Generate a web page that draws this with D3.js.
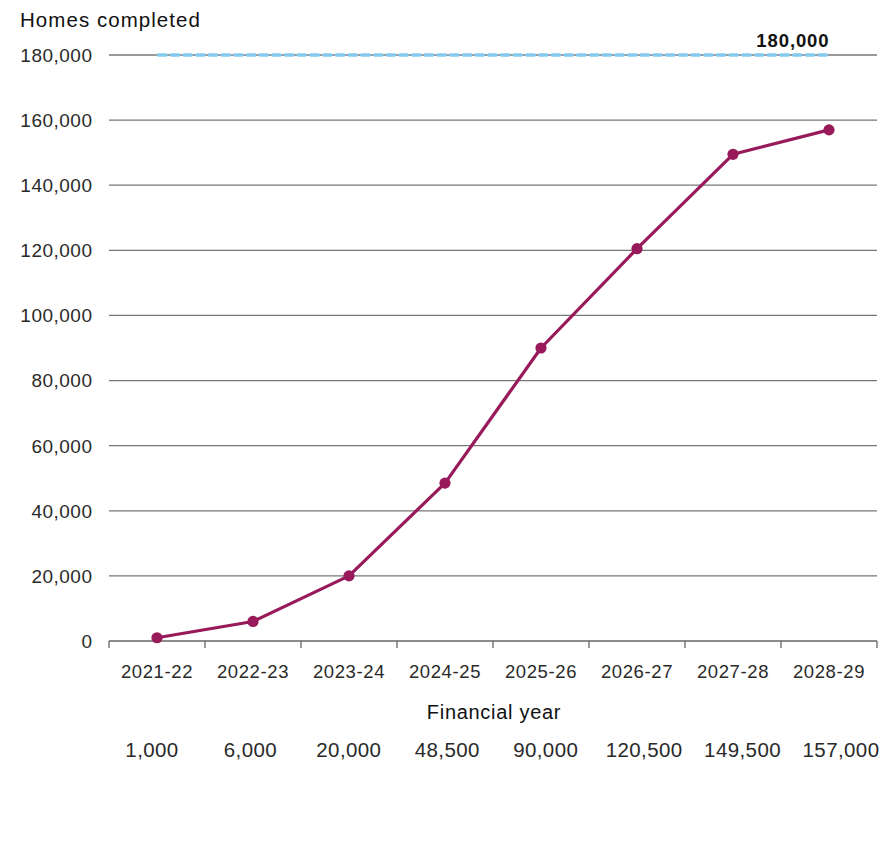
<!DOCTYPE html>
<html>
<head>
<meta charset="utf-8">
<script src="https://cdn.jsdelivr.net/npm/d3@7"></script>
<style>
  html, body { margin: 0; padding: 0; background: #fff; }
  svg text { font-family: "Liberation Sans", Arial, sans-serif; }
</style>
</head>
<body>
<svg id="chart" width="883" height="845"></svg>
<script>
// Homes completed by financial year, with the 180,000 target
const years = ["2021-22", "2022-23", "2023-24", "2024-25", "2025-26", "2026-27", "2027-28", "2028-29"];
const homes = [1000, 6000, 20000, 48500, 90000, 120500, 149500, 157000];
const target = 180000;
const yTicks = [0, 20000, 40000, 60000, 80000, 100000, 120000, 140000, 160000, 180000];

const svg = d3.select("#chart");
const margin = { left: 109, right: 6, top: 55, bottom: 204 };
const W = 883, H = 845;

const x = d3.scaleBand().domain(years).range([margin.left, W - margin.right]);
const y = d3.scaleLinear().domain([0, 180000]).range([H - margin.bottom, margin.top]);
const fmt = d3.format(",");

// Horizontal gridlines
svg.append("g")
  .selectAll("line")
  .data(yTicks.filter(d => d > 0))
  .join("line")
  .attr("x1", margin.left).attr("x2", W - margin.right)
  .attr("y1", d => y(d)).attr("y2", d => y(d))
  .attr("stroke", "#777").attr("stroke-width", 1.3);

// Y axis labels
svg.append("g")
  .selectAll("text")
  .data(yTicks)
  .join("text")
  .attr("x", 92.5).attr("y", d => y(d))
  .attr("dy", "0.36em")
  .attr("text-anchor", "end")
  .attr("font-size", 19)
  .attr("letter-spacing", 0.5)
  .attr("fill", "#2a2a2a")
  .text(d => fmt(d));

// X axis with tick marks on band edges
const xAxis = svg.append("g").attr("transform", `translate(0,${y(0)})`);
xAxis.append("line")
  .attr("x1", margin.left).attr("x2", W - margin.right)
  .attr("stroke", "#666").attr("stroke-width", 1.5);
const edges = years.map(d => x(d)).concat([x(years[years.length - 1]) + x.bandwidth()]);
xAxis.selectAll("line.tick")
  .data(edges)
  .join("line")
  .attr("class", "tick")
  .attr("x1", d => d).attr("x2", d => d)
  .attr("y1", 0).attr("y2", 7)
  .attr("stroke", "#666").attr("stroke-width", 1.3);
xAxis.selectAll("text")
  .data(years)
  .join("text")
  .attr("x", d => x(d) + x.bandwidth() / 2)
  .attr("y", 37)
  .attr("text-anchor", "middle")
  .attr("font-size", 18.5)
  .attr("letter-spacing", 0.6)
  .attr("fill", "#2a2a2a")
  .text(d => d);

// Target line
const cx = d => x(d) + x.bandwidth() / 2;
svg.append("line")
  .attr("x1", cx(years[0]) + 1.5).attr("x2", cx(years[years.length - 1]) - 1.5)
  .attr("y1", y(target)).attr("y2", y(target))
  .attr("stroke", "#84c9ee").attr("stroke-width", 3.3)
  .attr("stroke-linecap", "round")
  .attr("stroke-dasharray", "7.5,5.2");
svg.append("text")
  .attr("x", cx(years[years.length - 1]) + 0.5)
  .attr("y", y(target) - 8)
  .attr("text-anchor", "end")
  .attr("font-size", 18.5)
  .attr("font-weight", "bold")
  .attr("letter-spacing", 0.9)
  .attr("fill", "#111")
  .text(fmt(target));

// Completion line and markers
const line = d3.line().x((d, i) => cx(years[i])).y(d => y(d));
svg.append("path")
  .datum(homes)
  .attr("d", line)
  .attr("fill", "none")
  .attr("stroke", "#981a5a")
  .attr("stroke-width", 3.2)
  .attr("stroke-linejoin", "round");
svg.append("g")
  .selectAll("circle")
  .data(homes)
  .join("circle")
  .attr("cx", (d, i) => cx(years[i]))
  .attr("cy", d => y(d))
  .attr("r", 5.6)
  .attr("fill", "#981a5a");

// Titles
svg.append("text")
  .attr("x", 20).attr("y", 27)
  .attr("font-size", 20.5)
  .attr("letter-spacing", 1.05)
  .attr("fill", "#111")
  .text("Homes completed");
svg.append("text")
  .attr("x", 494).attr("y", 719)
  .attr("text-anchor", "middle")
  .attr("font-size", 20)
  .attr("letter-spacing", 0.7)
  .attr("fill", "#111")
  .text("Financial year");

// Value row beneath the axis
const xv = d3.scalePoint().domain(years).range([152, 841]);
svg.append("g")
  .selectAll("text")
  .data(homes)
  .join("text")
  .attr("x", (d, i) => xv(years[i]))
  .attr("y", 757)
  .attr("text-anchor", "middle")
  .attr("font-size", 20.5)
  .attr("letter-spacing", 0.4)
  .attr("fill", "#2a2a2a")
  .text(d => fmt(d));
</script>
</body>
</html>
